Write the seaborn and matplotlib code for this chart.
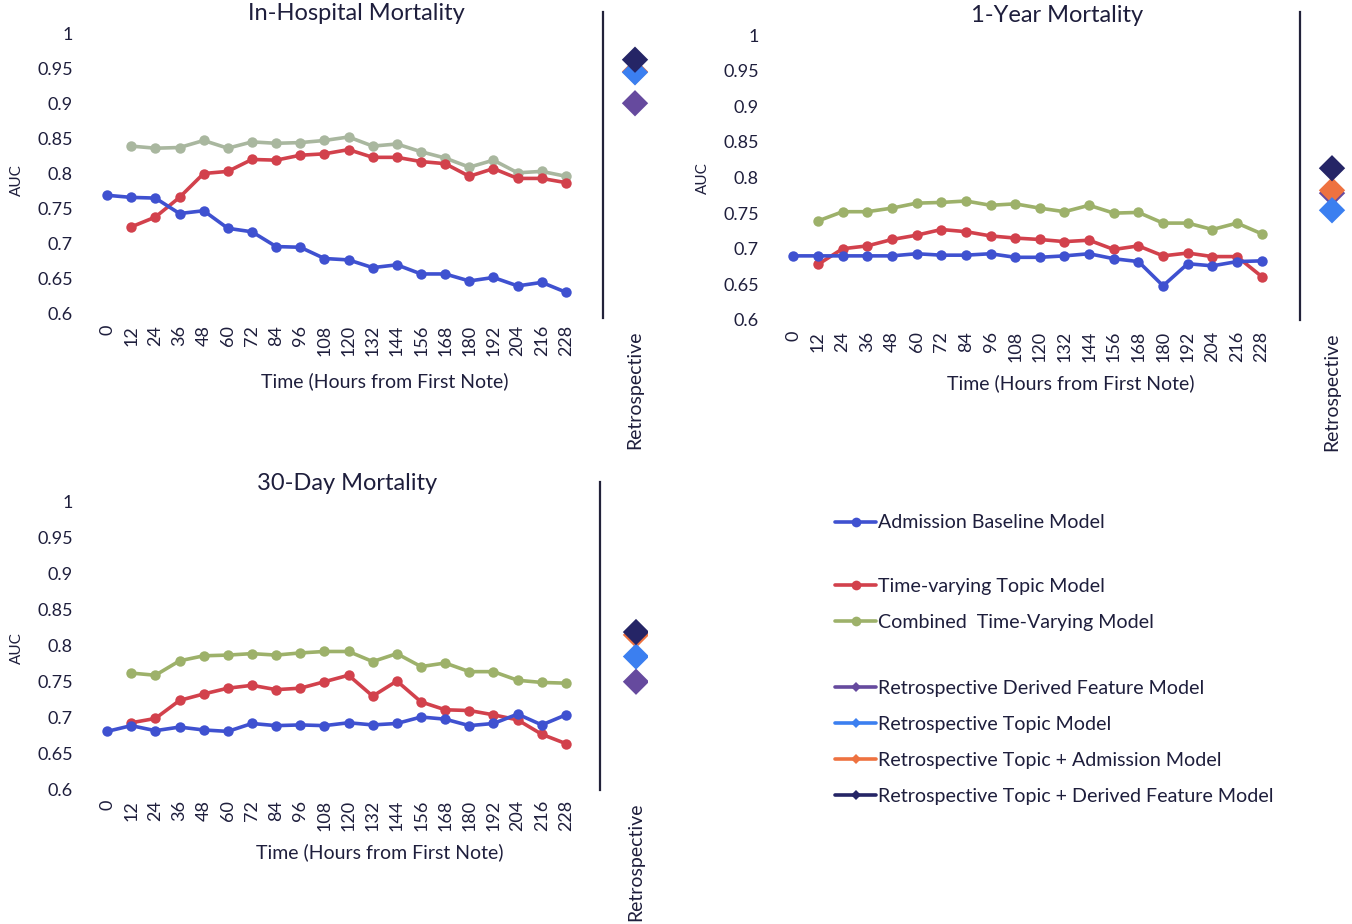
import matplotlib
matplotlib.use("Agg")
import numpy as np
import pandas as pd
import matplotlib.pyplot as plt
from matplotlib.lines import Line2D
import seaborn as sns

# ---------------- data ----------------
hours = [0, 12, 24, 36, 48, 60, 72, 84, 96, 108, 120, 132, 144, 156, 168, 180, 192, 204, 216, 228]
nan = np.nan

inhosp_baseline = [0.769, 0.766, 0.765, 0.743, 0.747, 0.722, 0.717, 0.696, 0.695, 0.679,
                   0.677, 0.666, 0.670, 0.657, 0.657, 0.647, 0.652, 0.640, 0.645, 0.631]
inhosp_topic = [nan, 0.724, 0.738, 0.766, 0.800, 0.803, 0.820, 0.819, 0.826, 0.828,
                0.834, 0.823, 0.823, 0.817, 0.814, 0.796, 0.807, 0.793, 0.793, 0.787]
inhosp_combined = [nan, 0.839, 0.836, 0.837, 0.847, 0.836, 0.845, 0.843, 0.844, 0.847,
                   0.852, 0.839, 0.842, 0.831, 0.822, 0.809, 0.819, 0.801, 0.803, 0.796]

year_baseline = [0.690, 0.690, 0.690, 0.690, 0.690, 0.693, 0.691, 0.691, 0.693, 0.688,
                 0.688, 0.690, 0.693, 0.686, 0.682, 0.648, 0.679, 0.676, 0.682, 0.683]
year_topic = [nan, 0.678, 0.700, 0.704, 0.713, 0.719, 0.727, 0.724, 0.718, 0.715,
              0.713, 0.710, 0.712, 0.699, 0.704, 0.690, 0.694, 0.689, 0.689, 0.661]
year_combined = [nan, 0.739, 0.752, 0.752, 0.757, 0.764, 0.765, 0.767, 0.761, 0.763,
                 0.757, 0.752, 0.761, 0.750, 0.751, 0.736, 0.736, 0.727, 0.736, 0.721]

day30_baseline = [0.680, 0.688, 0.681, 0.686, 0.682, 0.680, 0.691, 0.688, 0.689, 0.688,
                  0.692, 0.689, 0.691, 0.700, 0.697, 0.688, 0.691, 0.704, 0.689, 0.703]
day30_topic = [nan, 0.692, 0.698, 0.723, 0.732, 0.740, 0.744, 0.738, 0.740, 0.749,
               0.758, 0.729, 0.750, 0.721, 0.710, 0.709, 0.703, 0.696, 0.676, 0.663]
day30_combined = [nan, 0.761, 0.758, 0.778, 0.785, 0.786, 0.788, 0.786, 0.789, 0.791,
                  0.791, 0.777, 0.788, 0.770, 0.775, 0.763, 0.763, 0.751, 0.748, 0.747]

# retrospective models: derived, topic, topic+admission, topic+derived
retro_names = ["Retrospective Derived Feature Model", "Retrospective Topic Model",
               "Retrospective Topic + Admission Model", "Retrospective Topic + Derived Feature Model"]
inhosp_retro = [0.900, 0.944, 0.945, 0.962]
year_retro = [0.778, 0.754, 0.782, 0.813]
day30_retro = [0.749, 0.784, 0.814, 0.818]

series_names = ["Admission Baseline Model", "Time-varying Topic Model", "Combined  Time-Varying Model"]
panel_titles = ["In-Hospital Mortality", "1-Year Mortality", "30-Day Mortality"]
y_ticks = [0.6, 0.65, 0.7, 0.75, 0.8, 0.85, 0.9, 0.95, 1.0]
x_label = "Time (Hours from First Note)"
retro_label = "Retrospective"

# ---------------- style ----------------
sns.set_theme(style="white")
plt.rcParams["font.family"] = ["Lato", "DejaVu Sans"]
TXT = "#1e1e3c"
BLUE = "#3f51d0"
RED = "#d2414c"
GREEN_LIGHT = "#a9b79f"
GREEN = "#9db16a"
retro_colors = ["#664a9e", "#3b7ff0", "#ee7240", "#252566"]
retro_draw_order = (0, 2, 1, 3)

W, H = 1352, 924
fig = plt.figure(figsize=(W / 100, H / 100), dpi=100)


def rect(l, t, r, b):
    return [l / W, 1 - b / H, (r - l) / W, (b - t) / H]


def panel(main_px, retro_px, title, title_px, ylabel_px, xlabel_px,
          base, topic, comb, retro, green):
    l, t, r, b = main_px
    ax = fig.add_axes(rect(l, t, r, b))
    df = pd.DataFrame({"hours": hours, "base": base, "topic": topic, "comb": comb})
    for col, c in (("comb", green), ("topic", RED), ("base", BLUE)):
        sns.lineplot(data=df, x="hours", y=col, ax=ax, color=c, linewidth=2.6,
                     marker="o", markersize=7.5, markeredgewidth=0, zorder=3)
    ax.set_xlim(-6, 234)
    ax.set_ylim(0.6, 1.0)
    ax.set_xticks(hours)
    ax.set_xticklabels([str(h) for h in hours], rotation=90)
    ax.set_yticks(y_ticks)
    ax.set_yticklabels([f"{v:g}" for v in y_ticks])
    ax.tick_params(axis="both", length=0, labelsize=13, colors=TXT)
    ax.tick_params(axis="x", pad=8)
    ax.tick_params(axis="y", pad=16)
    ax.set_xlabel("")
    ax.set_ylabel("")
    for s in ax.spines.values():
        s.set_visible(False)
    ax.grid(False)

    # text placed in axes-fraction coordinates derived from the pixel layout
    def frac(px, py):
        return (px - l) / (r - l), (b - py) / (b - t)
    ax.text(*frac(*title_px), title, transform=ax.transAxes, ha="center", va="center",
            fontsize=17, color=TXT)
    ax.text(*frac(*ylabel_px), "AUC", transform=ax.transAxes, ha="center", va="center",
            rotation=90, fontsize=11, color=TXT)
    ax.text(*frac(*xlabel_px), x_label, transform=ax.transAxes, ha="center", va="center",
            fontsize=14, color=TXT)

    # retrospective strip
    lx, rt, rb, mx = retro_px
    rw = 48
    scale = 0.4 / (b - t)
    rax = fig.add_axes(rect(lx, rt, lx + rw, rb))
    rax.set_ylim(0.6 - (rb - b) * scale, 1.0 + (t - rt) * scale)
    off = (mx - lx) / rw
    rax.set_xlim(-off, 1 - off)
    rdf = pd.DataFrame({"x": [0, 0, 0, 0], "auc": retro, "model": retro_names})
    for z, i in enumerate(retro_draw_order):
        sns.scatterplot(data=rdf.iloc[[i]], x="x", y="auc", ax=rax, marker="D", s=180,
                        color=retro_colors[i], edgecolor="none", zorder=3 + z, legend=False)
    rax.set_xticks([0])
    rax.set_xticklabels([retro_label], rotation=90)
    rax.set_yticks([])
    rax.tick_params(axis="x", length=0, labelsize=14, colors=TXT, pad=9)
    rax.set_xlabel("")
    rax.set_ylabel("")
    for k, s in rax.spines.items():
        s.set_visible(k == "left")
    rax.spines["left"].set_color("#22223a")
    rax.spines["left"].set_linewidth(1.6)
    rax.grid(False)
    return ax


panel((95, 33, 578, 314), (603, 12, 318, 635), panel_titles[0], (356, 14), (17, 180), (385, 381),
      inhosp_baseline, inhosp_topic, inhosp_combined, inhosp_retro, GREEN_LIGHT)
panel((781, 35, 1274, 320), (1300, 12, 320, 1332), panel_titles[1], (1057, 16), (703, 178), (1071, 383),
      year_baseline, year_topic, year_combined, year_retro, GREEN)
panel((95, 501, 578, 789), (600, 482, 790, 636), panel_titles[2], (347, 483), (17, 648), (380, 852),
      day30_baseline, day30_topic, day30_combined, day30_retro, GREEN)

# ---------------- legend ----------------
def handle(c, m, ms):
    return Line2D([], [], color=c, linewidth=2.6, marker=m, markersize=ms, markeredgewidth=0)

groups = [
    ([handle(BLUE, "o", 7)], series_names[:1], 523),
    ([handle(RED, "o", 7), handle(GREEN, "o", 7)], series_names[1:], 604.5),
    ([handle(c, "D", 5) for c in retro_colors], retro_names, 742.5),
]
for hs, labels, yc in groups:
    leg = fig.legend(hs, labels, loc="center left", bbox_to_anchor=(835 / W, 1 - yc / H),
                     frameon=False, fontsize=14.1, handlelength=2.1, handletextpad=0.1,
                     labelspacing=0.97, borderpad=0, borderaxespad=0)
    for tx in leg.get_texts():
        tx.set_color(TXT)

fig.savefig("out.png", dpi=100)
